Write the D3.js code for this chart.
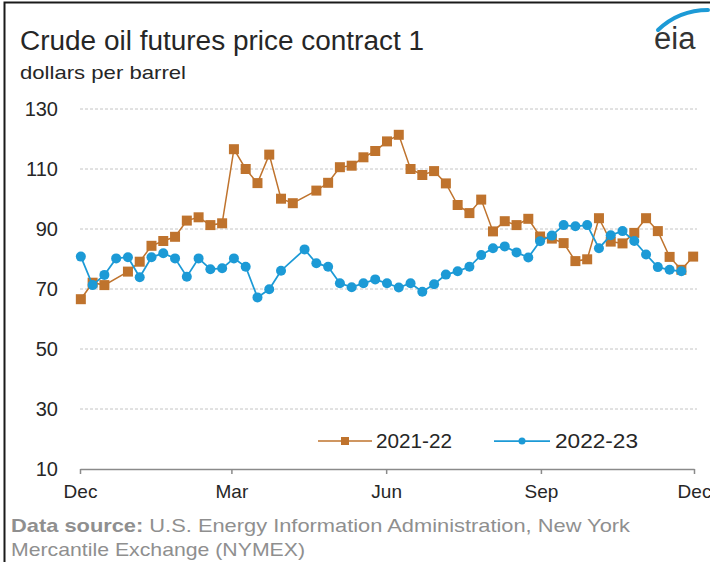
<!DOCTYPE html>
<html><head><meta charset="utf-8">
<script src="https://cdn.jsdelivr.net/npm/d3@7/dist/d3.min.js"></script>
<style>
body{margin:0;background:#fff}
svg{display:block}
text{font-family:"Liberation Sans",Arial,sans-serif}
</style>
</head><body>
<svg id="chart" width="710" height="562"></svg>
<script>
// ---- data ----
const seriesNames = ["2021-22", "2022-23"];
const weeks2122 = [0,1,2,4,5,6,7,8,9,10,11,12,13,14,15,16,17,18,20,21,22,23,24,25,26,27,28,29,30,31,32,33,34,35,36,37,38,39,40,41,42,43,44,45,46,47,48,49,50,51,52];
const values2122 = [66.6,72.1,71.3,75.8,79.1,84.4,86.0,87.4,92.8,93.9,91.3,91.9,116.6,110.0,105.3,114.8,100.1,98.6,102.8,105.4,110.6,111.1,113.9,116.0,119.2,121.4,110.0,108.0,109.3,105.2,98.0,95.3,99.8,89.2,92.6,91.3,93.4,87.5,86.8,85.3,79.3,79.9,93.6,85.8,85.2,88.7,93.6,89.3,80.7,76.4,80.8];
const weeks2223 = [0,1,2,3,4,5,6,7,8,9,10,11,12,13,14,15,16,17,19,20,21,22,23,24,25,26,27,28,29,30,31,32,33,34,35,36,37,38,39,40,41,42,43,44,45,46,47,48,49,50,51];
const values2223 = [80.8,71.3,74.7,80.2,80.6,73.9,80.6,81.9,80.2,74.1,80.2,76.6,76.9,80.2,77.4,67.2,69.9,76.1,83.2,78.6,77.4,71.9,70.6,71.9,73.2,71.9,70.5,71.9,69.1,71.6,74.8,75.9,77.4,81.3,83.6,84.2,82.2,80.5,85.9,87.8,91.3,90.9,91.3,83.6,87.9,89.3,86.0,81.5,77.3,76.4,75.9];
const xTickDates = ["2021-12-01","2022-03-01","2022-06-01","2022-09-01","2022-12-01"];
const xTickLabels = ["Dec","Mar","Jun","Sep","Dec"];
const yTicks = [10,30,50,70,90,110,130];
const startDate = "2021-12-01T12:00";

// ---- setup ----
const svg = d3.select("#chart");
const parse = s => new Date(s);
const x = d3.scaleTime().domain([parse("2021-12-01T00:00"), parse("2022-12-01T00:00")]).range([80, 694]);
const y = d3.scaleLinear().domain([10,130]).range([469,109]);
const dateOf = w => d3.timeDay.offset(parse(startDate), 7*w);

const colOrange = "#BF732D", colBlue = "#1C9AD6";
const txt = "#262626";

// frame
svg.append("rect").attr("x",4.5).attr("y",2.5).attr("width",720).attr("height",600)
  .attr("fill","none").attr("stroke","#1a1a1a").attr("stroke-width",2);

// title
svg.append("text").attr("x",20).attr("y",50).attr("font-size",27).attr("fill",txt)
  .attr("textLength",404).attr("lengthAdjust","spacingAndGlyphs")
  .text("Crude oil futures price contract 1");
svg.append("text").attr("x",20).attr("y",79).attr("font-size",19).attr("fill",txt)
  .attr("textLength",166).attr("lengthAdjust","spacingAndGlyphs")
  .text("dollars per barrel");

// eia logo
svg.append("path").attr("d","M658,30 Q679,10 708,10").attr("fill","none")
  .attr("stroke",colBlue).attr("stroke-width",4).attr("stroke-linecap","round");
svg.append("text").attr("x",654).attr("y",49).attr("font-size",31).attr("fill","#333")
  .text("eia");

// gridlines
svg.append("g").selectAll("line").data(yTicks.filter(v=>v>10)).join("line")
  .attr("x1",80).attr("x2",697).attr("y1",d=>y(d)).attr("y2",d=>y(d))
  .attr("stroke","#c4c4c4").attr("stroke-width",1).attr("stroke-dasharray","3,2");

// y axis labels
const yAxis = d3.axisLeft(y).tickValues(yTicks).tickSize(0).tickPadding(0);
const gy = svg.append("g").attr("transform","translate(58,0)").call(yAxis);
gy.select(".domain").remove();
gy.selectAll("text").attr("font-size",20).attr("fill",txt).attr("font-family",null);

// x axis
const xAxis = d3.axisBottom(x).tickValues(xTickDates.map(parse)).tickFormat((d,i)=>xTickLabels[i])
  .tickSizeInner(5).tickSizeOuter(0).tickPadding(11);
const gx = svg.append("g").attr("transform","translate(0,469)").call(xAxis);
gx.select(".domain").attr("stroke","#8a8a8a").attr("stroke-width",1.5);
gx.selectAll(".tick line").attr("stroke","#8a8a8a").attr("stroke-width",1.5);
gx.selectAll("text").attr("font-size",19).attr("fill",txt).attr("font-family",null);

// series
const d2122 = weeks2122.map((w,i)=>({date:dateOf(w), v:values2122[i]}));
const d2223 = weeks2223.map((w,i)=>({date:dateOf(w), v:values2223[i]}));
const line = d3.line().x(d=>x(d.date)).y(d=>y(d.v));

svg.append("path").datum(d2122).attr("d",line).attr("fill","none")
  .attr("stroke",colOrange).attr("stroke-width",1.5);
svg.append("g").selectAll("rect").data(d2122).join("rect")
  .attr("x",d=>x(d.date)-5).attr("y",d=>y(d.v)-5).attr("width",10).attr("height",10)
  .attr("fill",colOrange);

svg.append("path").datum(d2223).attr("d",line).attr("fill","none")
  .attr("stroke",colBlue).attr("stroke-width",1.75);
svg.append("g").selectAll("circle").data(d2223).join("circle")
  .attr("cx",d=>x(d.date)).attr("cy",d=>y(d.v)).attr("r",5).attr("fill",colBlue);

// legend
const lg = svg.append("g");
lg.append("line").attr("x1",318).attr("x2",372).attr("y1",441).attr("y2",441).attr("stroke",colOrange).attr("stroke-width",1.5);
lg.append("rect").attr("x",341).attr("y",437).attr("width",8).attr("height",8).attr("fill",colOrange);
lg.append("text").attr("x",376).attr("y",448).attr("font-size",20).attr("fill",txt)
  .attr("textLength",76).attr("lengthAdjust","spacingAndGlyphs").text(seriesNames[0]);
lg.append("line").attr("x1",494).attr("x2",550).attr("y1",441).attr("y2",441).attr("stroke",colBlue).attr("stroke-width",1.75);
lg.append("circle").attr("cx",522).attr("cy",441).attr("r",3.5).attr("fill",colBlue);
lg.append("text").attr("x",555).attr("y",448).attr("font-size",20).attr("fill",txt)
  .attr("textLength",83).attr("lengthAdjust","spacingAndGlyphs").text(seriesNames[1]);

// source
const src = svg.append("text").attr("x",11).attr("y",532).attr("font-size",19).attr("fill","#8f8f8f")
  .attr("textLength",619).attr("lengthAdjust","spacingAndGlyphs");
src.append("tspan").attr("font-weight","bold").text("Data source:");
src.append("tspan").text(" U.S. Energy Information Administration, New York");
svg.append("text").attr("x",11).attr("y",556).attr("font-size",19).attr("fill","#8f8f8f")
  .attr("textLength",294).attr("lengthAdjust","spacingAndGlyphs")
  .text("Mercantile Exchange (NYMEX)");
</script>
</body></html>
